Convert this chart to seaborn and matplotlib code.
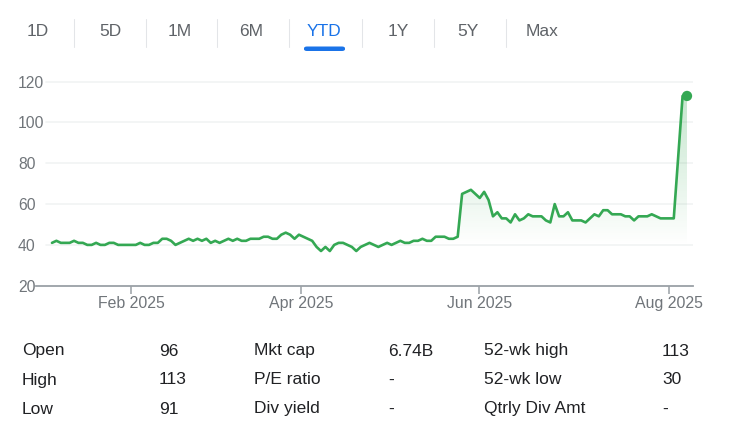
import numpy as np
import pandas as pd
import matplotlib
matplotlib.use("Agg")
import matplotlib.pyplot as plt
import seaborn as sns
from matplotlib.colors import LinearSegmentedColormap
from matplotlib.lines import Line2D
from matplotlib.patches import FancyBboxPatch

# ---------------- data ----------------
prices = [
    41, 42, 41, 41, 41, 42, 41, 41, 40, 40,
    41, 40, 40, 41, 41, 40, 40, 40, 40, 40,
    41, 40, 40, 41, 41, 43, 43, 42, 40, 41,
    42, 43, 42, 43, 42, 43, 41, 42, 41, 42,
    43, 42, 43, 42, 42, 43, 43, 43, 44, 44,
    43, 43, 45, 46, 45, 43, 45, 44, 43, 42,
    39, 37, 39, 37, 40, 41, 41, 40, 39, 37,
    39, 40, 41, 40, 39, 40, 41, 40, 41, 42,
    41, 41, 42, 42, 43, 42, 42, 44, 44, 44,
    43, 43, 44, 65, 66, 67, 65, 63, 66, 62,
    54, 56, 53, 53, 51, 55, 52, 53, 55, 54,
    54, 54, 52, 51, 60, 54, 54, 56, 52, 52,
    52, 51, 53, 55, 54, 57, 57, 55, 55, 55,
    54, 54, 52, 54, 54, 54, 55, 54, 53, 53,
    53, 53, 83, 113, 113,
]
x_tick_positions = [17.9, 56.4, 96.9, 139.9]
x_tick_labels = ["Feb 2025", "Apr 2025", "Jun 2025", "Aug 2025"]
y_ticks = [20, 40, 60, 80, 100, 120]

tabs = ["1D", "5D", "1M", "6M", "YTD", "1Y", "5Y", "Max"]
active_tab = "YTD"

col1_labels = ["Open", "High", "Low"]
col1_values = ["96", "113", "91"]
col2_labels = ["Mkt cap", "P/E ratio", "Div yield"]
col2_values = ["6.74B", "-", "-"]
col3_labels = ["52-wk high", "52-wk low", "Qtrly Div Amt"]
col3_values = ["113", "30", "-"]

# ---------------- style ----------------
GREEN = "#34a853"
GRID = "#f1f3f4"
AXIS = "#9aa0a6"
TICKTXT = "#70757a"
TABTXT = "#5f6368"
BLUE = "#1a73e8"
DARK = "#202124"

sns.set_theme(style="white")
plt.rcParams['font.family'] = ['Liberation Sans', 'DejaVu Sans']

W, H = 742, 432
fig = plt.figure(figsize=(W / 100, H / 100), dpi=100)
fig.patch.set_facecolor("white")

def fx(px):
    return px / W

def fy(py):
    return 1 - py / H

ax_left, ax_right = 36, 693
ax_bottom, ax_top = 285.7, 77.6
ax = fig.add_axes([fx(ax_left), fy(ax_bottom), (ax_right - ax_left) / W, (ax_bottom - ax_top) / H])
ax.set_facecolor("white")

df = pd.DataFrame({"day": np.arange(len(prices)), "price": prices})

step = (687 - 52) / (len(prices) - 1)
xmin = -(52 - ax_left) / step
xmax = (ax_right - 52) / step

# gradient fill under the line
poly = ax.fill_between(df["day"], df["price"], 20, color="none", lw=0)
grad = np.linspace(0, 1, 256).reshape(-1, 1)
cmap = LinearSegmentedColormap.from_list(
    "g", [(0.204, 0.659, 0.325, 0.0), (0.204, 0.659, 0.325, 0.30)])
im = ax.imshow(grad, extent=[xmin, xmax, 40, 115], origin="lower", cmap=cmap,
               aspect="auto", zorder=1, interpolation="bilinear")
im.set_clip_path(poly.get_paths()[0], transform=ax.transData)

# gridlines
for v in y_ticks[1:]:
    ax.axhline(v, xmin=(46 - ax_left) / (ax_right - ax_left), xmax=1,
               color=GRID, lw=1.2, zorder=0)

sns.lineplot(data=df, x="day", y="price", ax=ax, color=GREEN, lw=1.9, zorder=3)
sns.scatterplot(data=df.iloc[[-1]], x="day", y="price", ax=ax, color=GREEN,
                s=55, edgecolor="none", zorder=4)

ax.set_xlim(xmin, xmax)
ax.set_ylim(20, 122)
ax.set_xlabel("")
ax.set_ylabel("")

for s in ["top", "right", "left"]:
    ax.spines[s].set_visible(False)
ax.spines["bottom"].set_color(AXIS)
ax.spines["bottom"].set_linewidth(1.3)

ax.set_xticks(x_tick_positions)
ax.set_xticklabels(x_tick_labels)
ax.set_yticks(y_ticks)
ax.set_yticklabels([str(v) for v in y_ticks])
ax.tick_params(axis="x", length=5.5, width=1.1, color=AXIS, pad=2,
               labelsize=11.4, labelcolor=TICKTXT, bottom=True)
ax.tick_params(axis="y", length=0, pad=13, labelsize=11.3, labelcolor=TICKTXT)
for lab in ax.get_yticklabels():
    lab.set_ha("left")

# ---------------- tabs ----------------
tab_x = [38, 110, 180, 251, 324, 398, 468, 542]
sep_x = [73, 145, 217, 288, 361, 433, 505]
for name, x in zip(tabs, tab_x):
    fig.text(fx(x), fy(32), name, ha="center", va="center", fontsize=12.5,
             color=BLUE if name == active_tab else TABTXT)
for x in sep_x:
    fig.add_artist(Line2D([fx(x + 0.5), fx(x + 0.5)], [fy(19), fy(47)],
                          color="#e3e5e8", lw=0.75))
ul = FancyBboxPatch((fx(304), fy(51)), fx(345) - fx(304), fy(46.5) - fy(51),
                    boxstyle="round,pad=0,rounding_size=0.004",
                    transform=fig.transFigure, facecolor=BLUE, edgecolor="none")
fig.add_artist(ul)

# ---------------- stats table ----------------
row_y = [351, 380, 409]
cols = [(22, col1_labels), (159, col1_values), (254, col2_labels),
        (388, col2_values), (484, col3_labels), (662, col3_values)]
for x, texts in cols:
    for y, t in zip(row_y, texts):
        fig.text(fx(x), fy(y), t, ha="left", va="center", fontsize=12.5, color=DARK)

fig.savefig("out.png", dpi=100)
